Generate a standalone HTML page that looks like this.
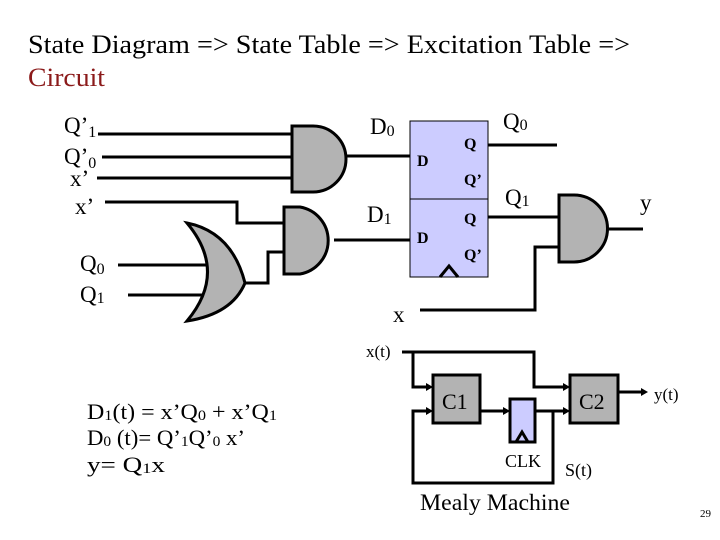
<!DOCTYPE html>
<html><head><meta charset="utf-8"><style>
html,body{margin:0;padding:0;background:#fff;}
svg{display:block;font-family:"Liberation Serif",serif;}
</style></head><body>
<svg width="720" height="540" viewBox="0 0 720 540" xmlns="http://www.w3.org/2000/svg">
<text x="28" y="53" font-size="26" textLength="602" lengthAdjust="spacingAndGlyphs">State Diagram =&gt; State Table =&gt; Excitation Table =&gt;</text>
<text x="28" y="86" font-size="26" fill="#8b1a1a" textLength="77" lengthAdjust="spacingAndGlyphs">Circuit</text>

<g stroke="#000" stroke-width="3" fill="none">
<line x1="98" y1="134" x2="292" y2="134"/>
<line x1="102" y1="157" x2="292" y2="157"/>
<line x1="97" y1="178" x2="292" y2="178"/>
<line x1="341" y1="156" x2="410" y2="156"/>
<polyline points="105,202 237,202 237,223 284,223"/>
<polyline points="244,283 268,283 268,252 284,252"/>
<line x1="334" y1="240" x2="410" y2="240"/>
<line x1="118" y1="265" x2="214" y2="265"/>
<line x1="128" y1="295" x2="214" y2="295"/>
<line x1="488" y1="145" x2="557" y2="145"/>
<line x1="488" y1="217" x2="559" y2="217"/>
<polyline points="420,310 535,310 535,247 559,247"/>
<line x1="607" y1="229" x2="643" y2="229"/>
</g>
<g stroke="#000" stroke-width="3" fill="#b3b3b3">
<path d="M292,126 L313,126 A33,33 0 0 1 313,192 L292,192 Z"/>
<path d="M284,207 L300,207 A34,34 0 0 1 300,274 L284,274 Z"/>
<path d="M187,223 Q232,232 245,283 Q232,314 187,321 Q228,272 187,223 Z"/>
<path d="M559,195 L574,195 A33,33 0 0 1 574,262 L559,262 Z"/>
</g>
<rect x="410" y="121" width="78" height="156" fill="#ccccff" stroke="#000" stroke-width="1"/>
<line x1="410" y1="199" x2="488" y2="199" stroke="#000" stroke-width="1"/>
<polyline points="440,277 449,266 458,277" fill="none" stroke="#000" stroke-width="3"/>

<g font-size="23">
<text x="64" y="133">Q’<tspan font-size="16" dy="4">1</tspan></text>
<text x="64" y="164">Q’<tspan font-size="16" dy="4">0</tspan></text>
<text x="70" y="186">x’</text>
<text x="75" y="214">x’</text>
<text x="80" y="271">Q<tspan font-size="16" dy="3">0</tspan></text>
<text x="80" y="302">Q<tspan font-size="16" dy="1">1</tspan></text>
<text x="370" y="134">D<tspan font-size="16" dy="2">0</tspan></text>
<text x="367" y="222">D<tspan font-size="16" dy="2">1</tspan></text>
<text x="503" y="129">Q<tspan font-size="16" dy="1">0</tspan></text>
<text x="505" y="205">Q<tspan font-size="16" dy="1">1</tspan></text>
<text x="640" y="210">y</text>
<text x="393" y="322">x</text>
</g>
<g font-size="16" font-weight="bold">
<text x="417" y="166">D</text>
<text x="464" y="149">Q</text>
<text x="464" y="185">Q’</text>
<text x="417" y="243">D</text>
<text x="464" y="224">Q</text>
<text x="464" y="260">Q’</text>
</g>

<text x="366" y="357" font-size="17">x(t)</text>
<g stroke="#000" stroke-width="3" fill="none">
<polyline points="402,352 534,352 534,387 566,387"/>
<polyline points="413,352 413,387 429,387"/>
<line x1="480" y1="411" x2="506" y2="411"/>
<line x1="535" y1="411" x2="566" y2="411"/>
<polyline points="553,411 553,483 413,483 413,411 429,411"/>
<line x1="618" y1="392" x2="642" y2="392"/>
</g>
<g fill="#000">
<polygon points="433,387 426,383 426,391"/>
<polygon points="433,411 426,407 426,415"/>
<polygon points="510,411 503,407 503,415"/>
<polygon points="570,387 563,383 563,391"/>
<polygon points="570,411 563,407 563,415"/>
<polygon points="648,392 641,388 641,396"/>
</g>
<rect x="433" y="375" width="47" height="48" fill="#b3b3b3" stroke="#000" stroke-width="3"/>
<rect x="570" y="375" width="48" height="48" fill="#b3b3b3" stroke="#000" stroke-width="3"/>
<rect x="510" y="399" width="25" height="43" fill="#ccccff" stroke="#000" stroke-width="3"/>
<polyline points="516,442 522,432 528,442" fill="none" stroke="#000" stroke-width="3"/>
<g font-size="22">
<text x="442" y="409">C1</text>
<text x="579" y="409">C2</text>
</g>
<text x="654" y="400" font-size="17">y(t)</text>
<text x="505" y="467" font-size="18">CLK</text>
<text x="565" y="476" font-size="18">S(t)</text>
<text x="420" y="510" font-size="23" textLength="150" lengthAdjust="spacingAndGlyphs">Mealy Machine</text>
<text x="700" y="517" font-size="11">29</text>

<g font-size="22">
<text x="87" y="419" textLength="190" lengthAdjust="spacingAndGlyphs">D<tspan font-size="15" dy="1">1</tspan><tspan dy="-1">(t) = x’Q</tspan><tspan font-size="15" dy="1">0</tspan><tspan dy="-1"> + x’Q</tspan><tspan font-size="15" dy="1">1</tspan></text>
<text x="87" y="445" textLength="158" lengthAdjust="spacingAndGlyphs">D<tspan font-size="15" dy="1">0</tspan><tspan dy="-1"> (t)= Q’</tspan><tspan font-size="15" dy="1">1</tspan><tspan dy="-1">Q’</tspan><tspan font-size="15" dy="1">0</tspan><tspan dy="-1"> x’</tspan></text>
<text x="87" y="472" textLength="78" lengthAdjust="spacingAndGlyphs">y= Q<tspan font-size="15" dy="1">1</tspan><tspan dy="-1">x</tspan></text>
</g>
</svg>
</body></html>
